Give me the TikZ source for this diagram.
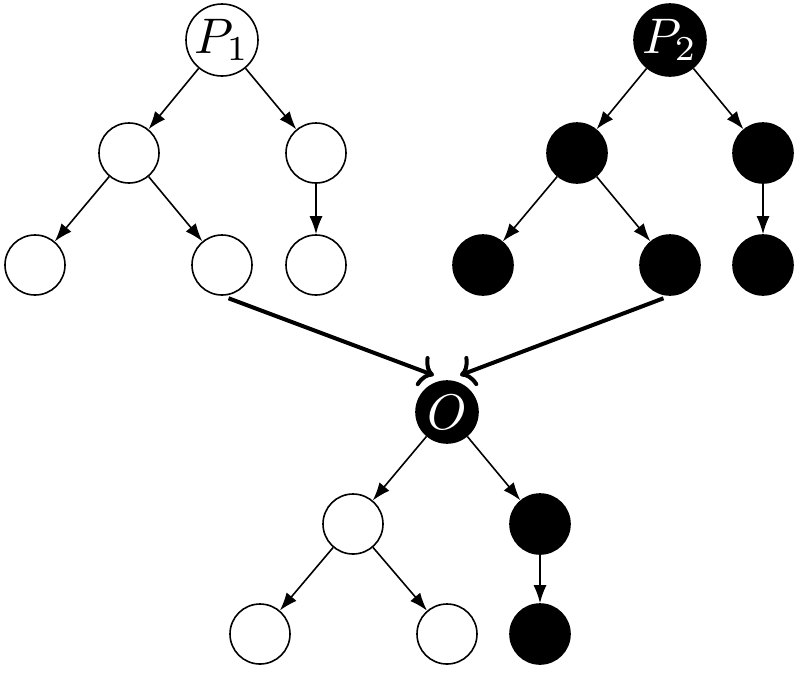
\documentclass[tikz,border=0pt]{standalone}
\usepackage{graphicx}
\usetikzlibrary{arrows.meta}
\begin{document}
\begin{tikzpicture}[x=1pt,y=-1pt,
  wnode/.style={circle,draw=black,fill=white,line width=1.6pt,minimum size=60pt,inner sep=0pt},
  bnode/.style={circle,draw=black,fill=black,line width=1.6pt,minimum size=60pt,inner sep=0pt,text=white},
  root/.style={minimum size=72pt},
  oroot/.style={minimum size=62pt},
  edge/.style={line width=1.6pt,-{Latex[length=18pt,width=13pt]}},
  merge/.style={line width=4pt,-{To[length=14pt,width=32pt]},shorten <=7pt,shorten >=14pt}]
\useasboundingbox (0,0) rectangle (800,673);
% parent 1
\node[wnode,root] (p1) at (222,40) {\scalebox{5}{$P_1$}};
\node[wnode] (a1) at (129,153) {};
\node[wnode] (a2) at (316,153) {};
\node[wnode] (a3) at (35,265) {};
\node[wnode] (a4) at (222,265) {};
\node[wnode] (a5) at (316,265) {};
% parent 2
\node[bnode,root] (p2) at (670,40) {\scalebox{5}{$P_2$}};
\node[bnode] (b1) at (577,153) {};
\node[bnode] (b2) at (763,153) {};
\node[bnode] (b3) at (483,265) {};
\node[bnode] (b4) at (670,265) {};
\node[bnode] (b5) at (763,265) {};
% offspring
\node[bnode,oroot] (o) at (447,412) {\scalebox{5}{$O$}};
\node[wnode] (c1) at (353,524) {};
\node[bnode] (c2) at (540,524) {};
\node[wnode] (c3) at (260,634) {};
\node[wnode] (c4) at (447,634) {};
\node[bnode] (c5) at (540,634) {};
% edges
\draw[edge] (p1) -- (a1);
\draw[edge] (p1) -- (a2);
\draw[edge] (a1) -- (a3);
\draw[edge] (a1) -- (a4);
\draw[edge] (a2) -- (a5);
\draw[edge] (p2) -- (b1);
\draw[edge] (p2) -- (b2);
\draw[edge] (b1) -- (b3);
\draw[edge] (b1) -- (b4);
\draw[edge] (b2) -- (b5);
\draw[edge] (o) -- (c1);
\draw[edge] (o) -- (c2);
\draw[edge] (c1) -- (c3);
\draw[edge] (c1) -- (c4);
\draw[edge] (c2) -- (c5);
% merge arrows
\draw[merge] (a4.south) -- (o.north);
\draw[merge] (b4.south) -- (o.north);
\end{tikzpicture}
\end{document}
